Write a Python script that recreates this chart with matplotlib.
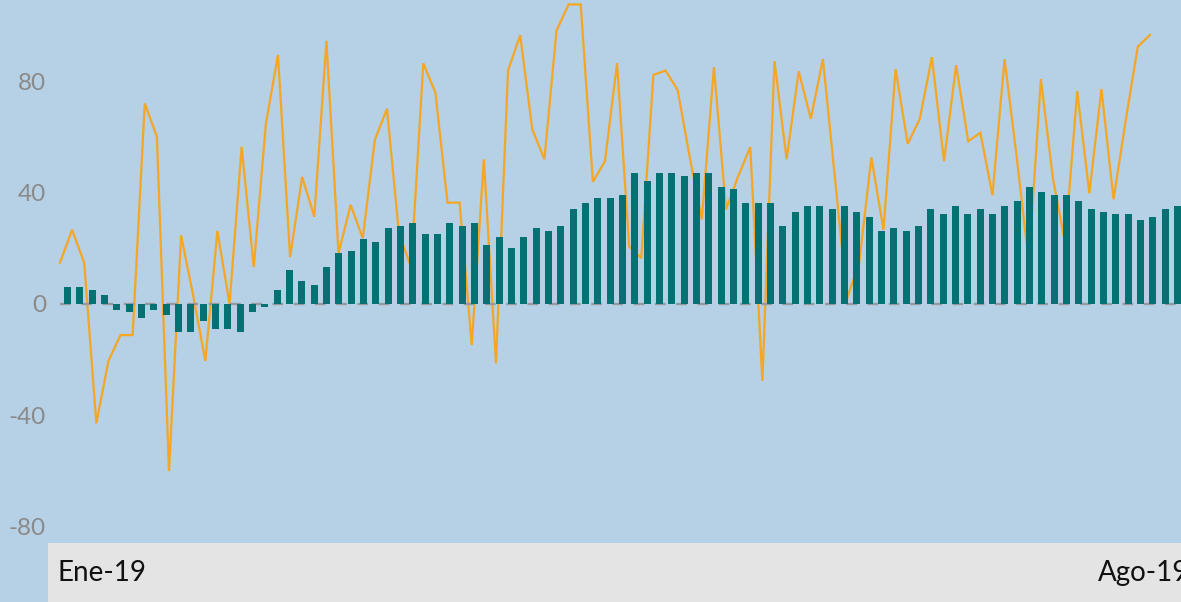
import matplotlib
matplotlib.use("Agg")
import matplotlib.pyplot as plt
from matplotlib.patches import Rectangle

# ---- data ----
bar_values = [6.0, 6.0, 5.2, 3.1, -2, -3, -5, -2, -4, -10,
              -10, -6, -9, -9, -10, -3, -1, 5.2, 12.1, 8.1,
              7.0, 13.2, 18.2, 19.0, 23.3, 22.2, 27.3, 28.0, 29.1, 25.1,
              25.1, 29.1, 28.0, 29.1, 21.1, 24.0, 20.0, 24.0, 27.3, 26.2,
              28.0, 34.1, 36.3, 38.1, 38.1, 39.2, 47.1, 44.2, 47.1, 47.1,
              46.0, 47.1, 47.1, 42.1, 41.3, 36.3, 36.3, 36.3, 28.0, 33.0,
              35.2, 35.2, 34.1, 35.2, 33.0, 31.2, 26.2, 27.3, 26.2, 28.0,
              34.1, 32.3, 35.2, 32.3, 34.1, 32.3, 35.2, 37.0, 42.1, 40.3,
              39.2, 39.2, 37.0, 34.1, 33.0, 32.3, 32.3, 30.1, 31.2, 34.1,
              35.2]

line_values = [14.9, 26.7, 14.8, -43.0, -20.5, -11.2, -11.2, 72.2, 60.3, -60.2,
               24.7, 3.0, -20.5, 26.3, 0.0, 56.6, 13.3, 64.9, 89.7, 16.9,
               45.8, 31.4, 94.8, 18.3, 35.7, 23.7, 59.1, 70.3, 25.0, 13.3,
               86.7, 76.1, 36.5, 36.5, -14.8, 52.1, -21.4, 84.1, 96.8, 62.9,
               52.1, 98.5, 107.9, 107.9, 44.0, 51.4, 86.7, 20.7, 16.5, 82.5,
               84.1, 77.1, 53.0, 30.5, 85.3, 34.1, 46.0, 56.5, -27.7, 87.5,
               52.1, 83.8, 66.7, 88.2, 45.0, 2.0, 15.0, 52.8, 26.7, 84.6,
               57.7, 66.7, 88.9, 51.4, 86.0, 58.6, 61.7, 39.2, 88.2, 53.0,
               15.0, 81.0, 45.0, 22.0, 76.6, 39.9, 77.4, 37.7, 66.0, 92.7,
               96.9]

y_ticks = [-80, -40, 0, 40, 80]
y_tick_labels = ["-80", "-40", "0", "40", "80"]
x_labels = ["Ene-19", "Ago-19"]

# ---- style ----
BG = "#b6d0e5"
BAR = "#057173"
LINE = "#f5a623"
BAND = "#e4e4e4"
FONT = ["Lato", "DejaVu Sans"]

W, H = 1181, 602
fig = plt.figure(figsize=(W / 100, H / 100), dpi=100, facecolor=BG)

# grey category band at bottom
fig.patches.append(Rectangle((48 / W, 0), (W - 48) / W, 59 / H,
                             transform=fig.transFigure, facecolor=BAND,
                             edgecolor="none", zorder=0))

ax = fig.add_axes([48 / W, 59 / H, (W - 48) / W, (H - 59) / H])
ax.set_facecolor(BG)
for s in ax.spines.values():
    s.set_visible(False)

# line series (behind bars)
x_line = list(range(len(line_values)))
ax.plot(x_line, line_values, color=LINE, lw=1.6, zorder=2, solid_joinstyle="miter")
ax.hlines(0, 0, len(line_values) + 5, colors="#969aa0", linestyles=(0, (4.5, 4.5)),
          lw=1.7, zorder=3)
ax.set_xlim(-0.991, 92.57)
ax.set_ylim(-86.1, 109.5)
ax.set_xticks([])
ax.set_yticks(y_ticks)
ax.set_yticklabels(y_tick_labels, fontsize=17.5, color="#8a8a8a", family=FONT)
ax.tick_params(axis="y", length=0, pad=1.5)

# bars on twin x axis (drawn on top)
ax2 = ax.twiny()
for s in ax2.spines.values():
    s.set_visible(False)
x_bar = list(range(len(bar_values)))
ax2.bar(x_bar, bar_values, width=0.57, color=BAR, zorder=3)
ax2.set_xlim(-1.581, 90.28)
ax2.set_xticks([])

fig.text(57 / W, 1 - 573 / H, x_labels[0], fontsize=20, family=FONT,
         color="#111111", ha="left", va="center")
fig.text(1098 / W, 1 - 573 / H, x_labels[1], fontsize=20, family=FONT,
         color="#111111", ha="left", va="center")

fig.savefig("out.png", dpi=100, facecolor=BG)
